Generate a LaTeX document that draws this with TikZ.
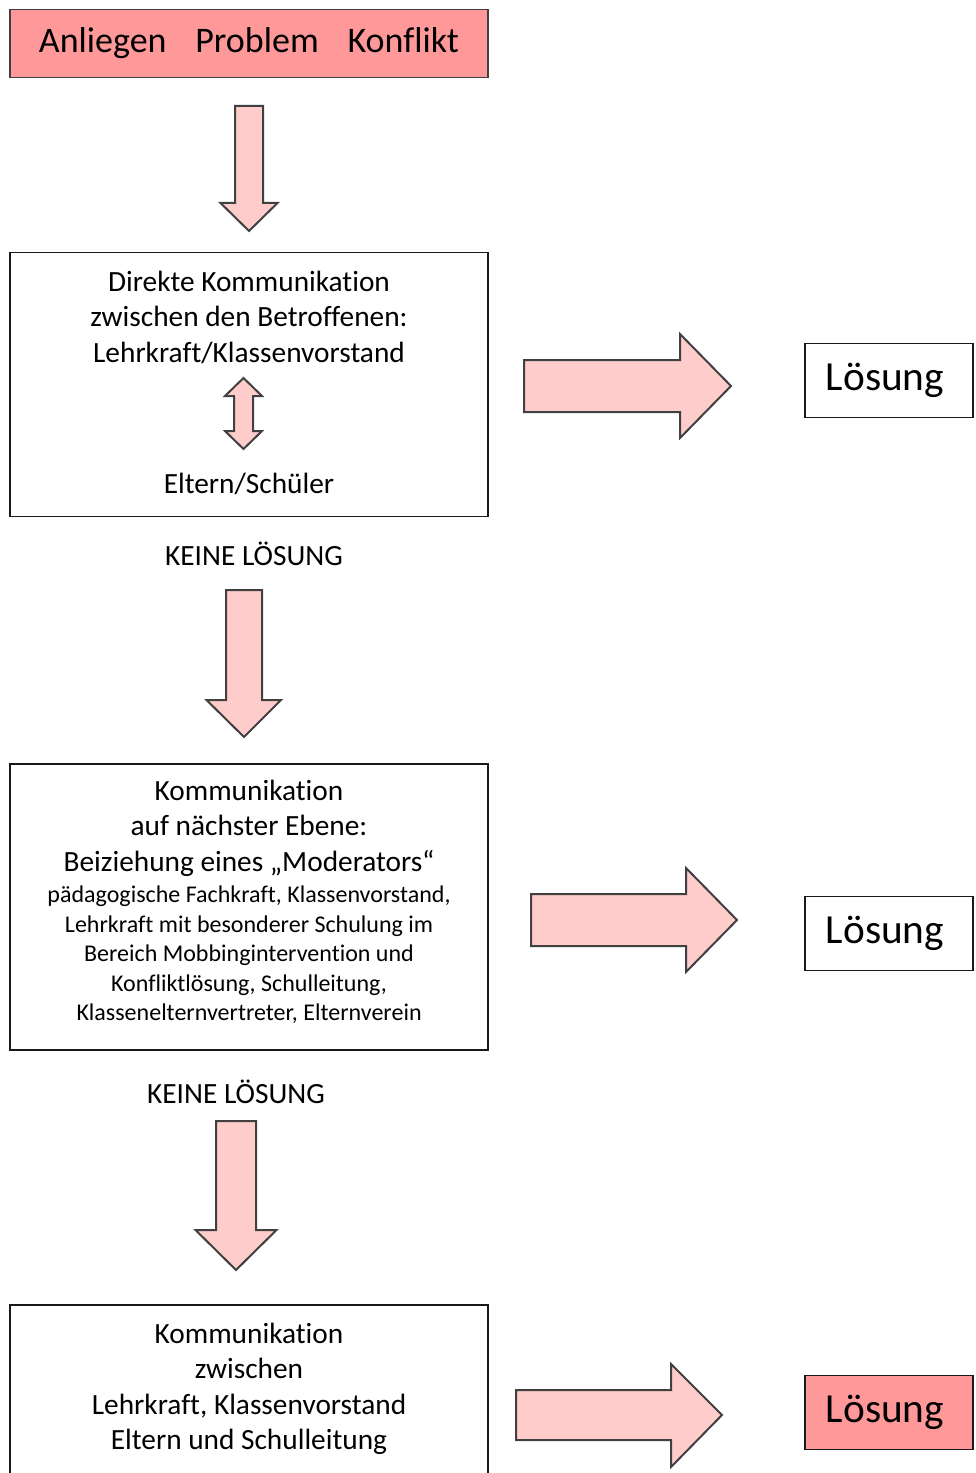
\documentclass[tikz,border=0pt]{standalone}
\usepackage{fontspec}
\setmainfont{Carlito}[Ligatures=NoCommon]
\usetikzlibrary{positioning}

\definecolor{salmon}{HTML}{FF9999}
\definecolor{rosa}{HTML}{FFCCCC}
\definecolor{randgrau}{HTML}{404040}

% Masse in pt (1px = 0.75pt)
\tikzset{
  stufe/.style = {draw=black!90, line width=1.4pt, minimum width=359pt, minimum height=#1, inner sep=0pt},
  loesung/.style = {draw=black!90, line width=1.4pt, minimum width=126.5pt, minimum height=55.5pt, inner sep=0pt,
                    font=\fontsize{31}{36}\selectfont},
  blockpfeil/.style = {draw=randgrau, fill=rosa, line width=1.5pt, line join=miter},
  haupttext/.style = {align=center, inner sep=0pt, font=\fontsize{22}{26.6}\selectfont},
  kleintext/.style = {align=center, inner sep=0pt, font=\fontsize{18}{22.1}\selectfont}
}

\begin{document}
\begin{tikzpicture}[x=0.75pt,y=-0.75pt]
\useasboundingbox (0,0) rectangle (975,1473);
\clip (0,0) rectangle (975,1473);

% Anliegen
\node [draw=randgrau, fill=salmon, line width=1.4pt, minimum width=359pt, minimum height=51pt, inner sep=0pt,
       font=\fontsize{27}{32}\selectfont] (anliegen) at (249,43.5)
      {Anliegen\hspace{0.8em}Problem\hspace{0.8em}Konflikt};

% erste Stufe
\node [stufe=198pt] (direkt) at (249,384.5) {};
\node [haupttext] (direkttxt) at (249,317) {Direkte Kommunikation\\zwischen den Betroffenen:\\Lehrkraft/Klassenvorstand};
\node [haupttext] (eltern) at (249,484) {Eltern/Schüler};
\filldraw [blockpfeil] (243.5,378) -- (262,396) -- (253,396) -- (253,431) -- (262,431) -- (243.5,449)
          -- (225,431) -- (234,431) -- (234,396) -- (225,396) -- cycle;

% zweite Stufe
\node [stufe=215pt] (moderator) at (249,907) {};
\node [haupttext] (modtxt) at (249,828) {Kommunikation\\auf nächster Ebene:\\Beiziehung eines „Moderators“};
\node [kleintext] (modliste) at (249,955) {pädagogische Fachkraft, Klassenvorstand,\\Lehrkraft mit besonderer Schulung im\\Bereich Mobbingintervention und\\Konfliktlösung, Schulleitung,\\Klassenelternvertreter, Elternverein};

% dritte Stufe
\node [stufe=142pt] (leitung) at (249,1400) {};
\node [haupttext] (leittxt) at (249,1389) {Kommunikation\\zwischen\\Lehrkraft, Klassenvorstand\\Eltern und Schulleitung};

% keine Loesung
\node [haupttext] (keine1) at (254,554) {KEINE LÖSUNG};
\node [haupttext] (keine2) at (236,1092) {KEINE LÖSUNG};

% Loesungen
\node [loesung] (loes1) at (889,380.5) {\kern-6pt Lösung};
\node [loesung] (loes2) at (889,933.5) {\kern-6pt Lösung};
\node [loesung, fill=salmon] (loes3) at (889,1412.5) {\kern-6pt Lösung};

% Pfeile nach unten
\filldraw [blockpfeil] (235,106) -- (263,106) -- (263,203) -- (277.5,203) -- (249,231) -- (220.5,203) -- (235,203) -- cycle;
\filldraw [blockpfeil] (226,590) -- (262,590) -- (262,700) -- (281,700) -- (244,737) -- (206.5,700) -- (226,700) -- cycle;
\filldraw [blockpfeil] (216,1121) -- (256,1121) -- (256,1230) -- (276.5,1230) -- (236,1270) -- (195.5,1230) -- (216,1230) -- cycle;

% Pfeile nach rechts
\filldraw [blockpfeil] (524,360) -- (680,360) -- (680,334) -- (731,386) -- (680,438) -- (680,412) -- (524,412) -- cycle;
\filldraw [blockpfeil] (531,894) -- (686,894) -- (686,868) -- (737,920) -- (686,972) -- (686,946) -- (531,946) -- cycle;
\filldraw [blockpfeil] (516,1390) -- (671,1390) -- (671,1364) -- (722,1415) -- (671,1467) -- (671,1440) -- (516,1440) -- cycle;
\end{tikzpicture}
\end{document}
